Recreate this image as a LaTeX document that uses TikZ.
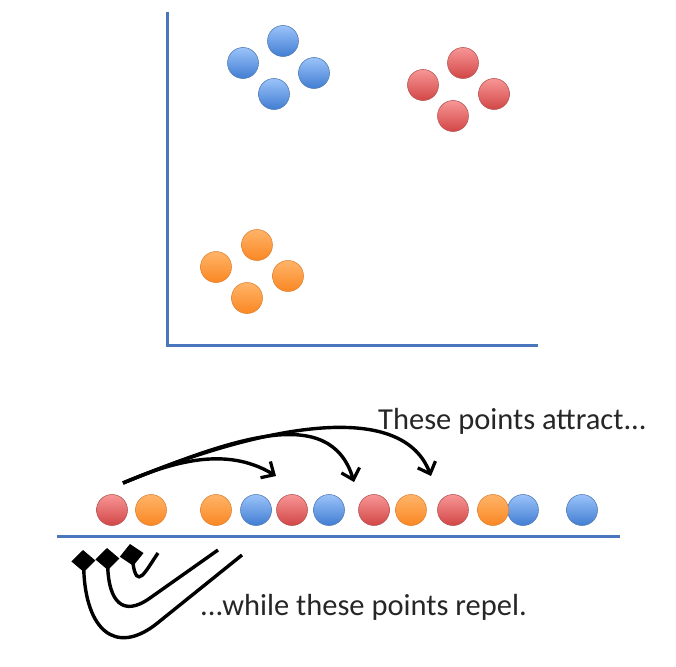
\documentclass[tikz,border=0pt]{standalone}
\usepackage{fontspec}
\setmainfont{Carlito}
\usetikzlibrary{arrows.meta}
\definecolor{axisblue}{RGB}{74,118,190}
\definecolor{bluetop}{RGB}{155,195,250}
\definecolor{bluebot}{RGB}{65,125,210}
\definecolor{redtop}{RGB}{248,150,150}
\definecolor{redbot}{RGB}{210,70,70}
\definecolor{orgtop}{RGB}{255,180,105}
\definecolor{orgbot}{RGB}{250,135,35}
\tikzset{
  dot/.style={circle, minimum size=31pt, inner sep=0pt, line width=0.6pt},
  bdot/.style={dot, draw=bluebot!70!gray, top color=bluetop, bottom color=bluebot},
  rdot/.style={dot, draw=redbot!70!gray, top color=redtop, bottom color=redbot},
  odot/.style={dot, draw=orgbot!80!gray, top color=orgtop, bottom color=orgbot},
  axisline/.style={axisblue, line width=3pt},
  attract/.style={black, line width=3.4pt, -{Straight Barb[length=10pt,width=19pt,line width=3.2pt]}},
  repel/.style={black, line width=3.4pt, -{Diamond[length=22pt,width=24pt]}},
  label/.style={font=\fontsize{30.5}{34}\selectfont, text=black!85, anchor=west, inner sep=0pt}
}
\begin{document}
\begin{tikzpicture}[x=1pt,y=-1pt]
\useasboundingbox (0,0) rectangle (676,666);
% axes
\coordinate (ytop) at (167,12);
\coordinate (orig) at (167,345);
\coordinate (xend) at (538,345);
\draw[axisline] (ytop) -- (orig) -- (xend);
% blue cluster
\node[bdot] (b1) at (283,41) {};
\node[bdot] (b2) at (243,63) {};
\node[bdot] (b3) at (314,73) {};
\node[bdot] (b4) at (274,94) {};
% red cluster
\node[rdot] (r1) at (463,63) {};
\node[rdot] (r2) at (423,85) {};
\node[rdot] (r3) at (494,94) {};
\node[rdot] (r4) at (453,116) {};
% orange cluster
\node[odot] (o1) at (257,245) {};
\node[odot] (o2) at (216,267) {};
\node[odot] (o3) at (288,276) {};
\node[odot] (o4) at (247,298) {};
% baseline
\coordinate (bl) at (57,536);
\coordinate (br) at (620,536);
\draw[axisline] (bl) -- (br);
% row of points
\node[rdot] (p1) at (112,510) {};
\node[odot] (p2) at (151,510) {};
\node[odot] (p3) at (216,510) {};
\node[bdot] (p4) at (256,510) {};
\node[rdot] (p5) at (292,510) {};
\node[bdot] (p6) at (329,510) {};
\node[rdot] (p7) at (374,510) {};
\node[odot] (p8) at (411,510) {};
\node[rdot] (p9) at (453,510) {};
\node[bdot] (p11) at (523,510) {};
\node[odot] (p10) at (493,510) {};
\node[bdot] (p12) at (582,510) {};
% attract arrows
\coordinate (as) at (123,483);
\coordinate (a1) at (276,476);
\coordinate (a2) at (354,482);
\coordinate (a3) at (431,476);
\draw[attract] (as) .. controls (170,463) and (225,445) .. (a1);
\draw[attract] (as) .. controls (230,440) and (330,402) .. (a2);
\draw[attract] (as) .. controls (250,430) and (400,395) .. (a3);
\node[label] (t1) at (378,421) {These points attract...};
% repel arrows
\coordinate (r1s) at (242,555);
\coordinate (r1m) at (155,625);
\coordinate (r1e) at (83,550);
\coordinate (r2s) at (218,550);
\coordinate (r2m) at (150,598);
\coordinate (r2e) at (107,548);
\coordinate (r3s) at (158,553);
\coordinate (r3e) at (130,544);
\draw[repel] (r1s) -- (r1m) .. controls (115,655) and (86,630) .. (r1e);
\draw[repel] (r2s) -- (r2m) .. controls (122,618) and (109,600) .. (r2e);
\draw[repel] (r3s) .. controls (145,572) and (137,590) .. (r3e);
\node[label] (t2) at (200,607) {...while these points repel.};
\end{tikzpicture}
\end{document}
